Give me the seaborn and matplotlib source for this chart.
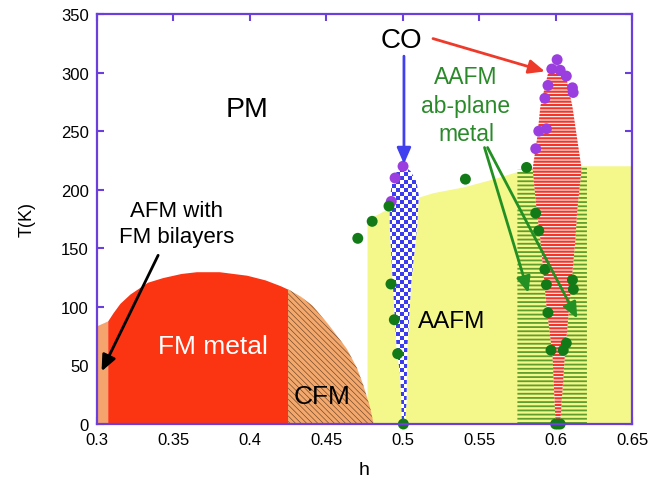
import numpy as np
import pandas as pd
import matplotlib
matplotlib.use("Agg")
import matplotlib.pyplot as plt
from matplotlib.patches import Polygon
from matplotlib.colors import ListedColormap
import seaborn as sns

# ---------------- data ----------------
x_ticks = [0.3, 0.35, 0.4, 0.45, 0.5, 0.55, 0.6, 0.65]
x_tick_labels = ["0.3", "0.35", "0.4", "0.45", "0.5", "0.55", "0.6", "0.65"]
y_ticks = [0, 50, 100, 150, 200, 250, 300, 350]

# FM dome (AFM strip | FM metal | CFM)
fm_h = [0.300, 0.307, 0.3105, 0.315, 0.3216, 0.333, 0.343, 0.355, 0.365, 0.38,
        0.398, 0.41, 0.42, 0.425, 0.433, 0.441, 0.452, 0.4635, 0.470, 0.474, 0.4785, 0.481]
fm_T = [84, 88, 95, 103, 111, 121, 125, 128.5, 130, 130,
        127, 123, 118, 115, 109, 101, 84, 64, 48, 34, 15, 0]
afm_strip_end = 0.307
fm_metal_end = 0.425

# AAFM (yellow) region upper boundary
aafm_h = [0.477, 0.477, 0.49, 0.505, 0.52, 0.54, 0.56, 0.575, 0.59, 0.61, 0.65, 0.65]
aafm_T = [0, 174, 183, 191, 197, 202, 209, 215, 218, 220, 220, 0]

# AAFM ab-plane metal (green stripes)
abm_h = [0.575, 0.575, 0.6205, 0.6205]
abm_T = [0, 217, 220, 0]

# CO region at h = 0.5 (checker)
co5_h = [0.4995, 0.4985, 0.496, 0.4935, 0.4915, 0.4915, 0.4935, 0.4975, 0.501,
         0.505, 0.509, 0.5105, 0.5095, 0.5055, 0.503, 0.5025, 0.5015]
co5_T = [0, 40, 65, 120, 170, 192, 210, 218, 220,
         216, 207, 195, 170, 120, 65, 20, 0]

# CO region at h = 0.6 (red stripes)
co6_h = [0.600, 0.598, 0.594, 0.590, 0.587, 0.585, 0.588, 0.590, 0.5955, 0.5985, 0.6025,
         0.606, 0.611, 0.6145, 0.617, 0.614, 0.613, 0.609, 0.606, 0.603]
co6_T = [0, 58, 101, 158, 190, 218, 245, 271, 302, 306, 306,
         302, 271, 240, 218, 180, 158, 101, 58, 0]

# measured points
co_pts_h = [0.5002, 0.495, 0.4925,
            0.601, 0.5975, 0.603, 0.607, 0.611, 0.6115, 0.595, 0.593, 0.594, 0.589, 0.587]
co_pts_T = [220, 210, 190,
            311, 303, 302, 297, 287, 283, 289, 278, 252, 250, 235]
mag_pts_h = [0.491, 0.480, 0.4706, 0.4923, 0.4945, 0.4967, 0.5004, 0.541,
             0.581, 0.587, 0.589, 0.593, 0.594, 0.611, 0.6116, 0.595, 0.607, 0.605,
             0.597, 0.600, 0.6015, 0.603]
mag_pts_T = [186, 173, 158.5, 119.5, 89, 60, 0, 209,
             219, 180, 165, 132, 119, 123, 115, 95, 69, 63, 63, 0, 0, 0]

# ---------------- style ----------------
sns.set_theme(style="white")
plt.rcParams["font.family"] = ["Liberation Sans", "DejaVu Sans"]
plt.rcParams["text.color"] = "black"
plt.rcParams["axes.labelcolor"] = "black"
plt.rcParams["xtick.labelcolor"] = "black"
plt.rcParams["ytick.labelcolor"] = "black"
spine_c = "#6b3fdc"

fig = plt.figure(figsize=(6.63, 4.85), dpi=100)
ax = fig.add_axes([0.1463, 0.1237, 0.807, 0.8454])

def hlw(p, w):
    if hasattr(p, "set_hatch_linewidth"):
        p.set_hatch_linewidth(w)

# yellow AAFM
ax.fill(aafm_h, aafm_T, color="#f4f78a", lw=0, zorder=1)
# green stripes
g = ax.fill(abm_h, abm_T, facecolor="none", edgecolor="#5e9e2c", lw=0,
            hatch="----", zorder=2)[0]
hlw(g, 1.3)
# red stripes CO at 0.6
r = ax.fill(co6_h, co6_T, facecolor="white", edgecolor="#f2362a", lw=0,
            hatch="-----", zorder=3)[0]
hlw(r, 1.6)
# checker CO at 0.5
poly = Polygon(np.column_stack([co5_h, co5_T]), closed=True, facecolor="white",
               edgecolor="none", zorder=3)
ax.add_patch(poly)
nx, ny = 10, 66
chk = (np.add.outer(np.arange(ny), np.arange(nx)) % 2).astype(float)
im = ax.imshow(chk, extent=[0.488, 0.514, 0, 225], origin="lower",
               cmap=ListedColormap(["white", "#3b3bef"]), aspect="auto",
               interpolation="nearest", zorder=3.1)
im.set_clip_path(poly)

# FM dome pieces
fh = np.array(fm_h)
ft = np.array(fm_T)
ax.fill_between(fh, 0, ft, where=fh <= afm_strip_end, color="#f4a46c", lw=0, zorder=4)
ax.fill_between(fh, 0, ft, where=(fh >= afm_strip_end) & (fh <= fm_metal_end),
                color="#fb3412", lw=0, zorder=4)
c = ax.fill_between(fh, 0, ft, where=fh >= fm_metal_end, facecolor="#f4a86c",
                    edgecolor="#6a4428", lw=0, hatch="\\\\\\\\\\\\", zorder=4)
hlw(c, 0.45)

# points
sns.scatterplot(x=co_pts_h, y=co_pts_T, color="#9b3ee0", s=62, edgecolor="none",
                ax=ax, zorder=6, clip_on=False)
sns.scatterplot(x=mag_pts_h, y=mag_pts_T, color="#137a18", s=62, edgecolor="none",
                ax=ax, zorder=6, clip_on=False)

# text
ax.text(0.398, 269, "PM", fontsize=20.5, ha="center", va="center", zorder=7)
ax.text(0.4993, 328, "CO", fontsize=20, ha="center", va="center", zorder=7)
ax.text(0.5414, 272, "AAFM\nab-plane\nmetal", fontsize=16.5, ha="center", va="center",
        color="#2a8a2a", linespacing=1.3, zorder=7)
ax.text(0.352, 171, "AFM with\nFM bilayers", fontsize=16, ha="center", va="center",
        linespacing=1.3, zorder=7)
ax.text(0.376, 67, "FM metal", fontsize=19, ha="center", va="center", color="white",
        zorder=7)
ax.text(0.4475, 24, "CFM", fontsize=19, ha="center", va="center", zorder=7)
ax.text(0.532, 88, "AAFM", fontsize=17.5, ha="center", va="center", zorder=7)

# arrows
def arrow(x0, y0, x1, y1, col):
    ax.annotate("", xy=(x1, y1), xytext=(x0, y0), zorder=8,
                arrowprops=dict(arrowstyle="-|>,head_length=0.8,head_width=0.35",
                                color=col, lw=2, shrinkA=0, shrinkB=0))

arrow(0.5008, 314, 0.5008, 222, "#4040ee")
arrow(0.5198, 329, 0.593, 301, "#ee3a2a")
arrow(0.5535, 236, 0.5822, 112, "#239023")
arrow(0.5555, 236, 0.6142, 90, "#239023")
arrow(0.340, 144, 0.303, 45, "black")

# axes
ax.set_xlim(0.3, 0.65)
ax.set_ylim(0, 350)
ax.set_xticks(x_ticks)
ax.set_xticklabels(x_tick_labels)
ax.set_yticks(y_ticks)
ax.tick_params(direction="in", length=5, width=1.5, color=spine_c, labelsize=12,
               labelcolor="black", top=True, right=True, bottom=True, left=True, pad=6)
for s in ax.spines.values():
    s.set_color(spine_c)
    s.set_linewidth(1.6)
    s.set_zorder(9)
ax.set_xlabel("h", fontsize=14, labelpad=10)
ax.set_ylabel("T(K)", fontsize=13, labelpad=18)

fig.savefig("out.png", dpi=100)
